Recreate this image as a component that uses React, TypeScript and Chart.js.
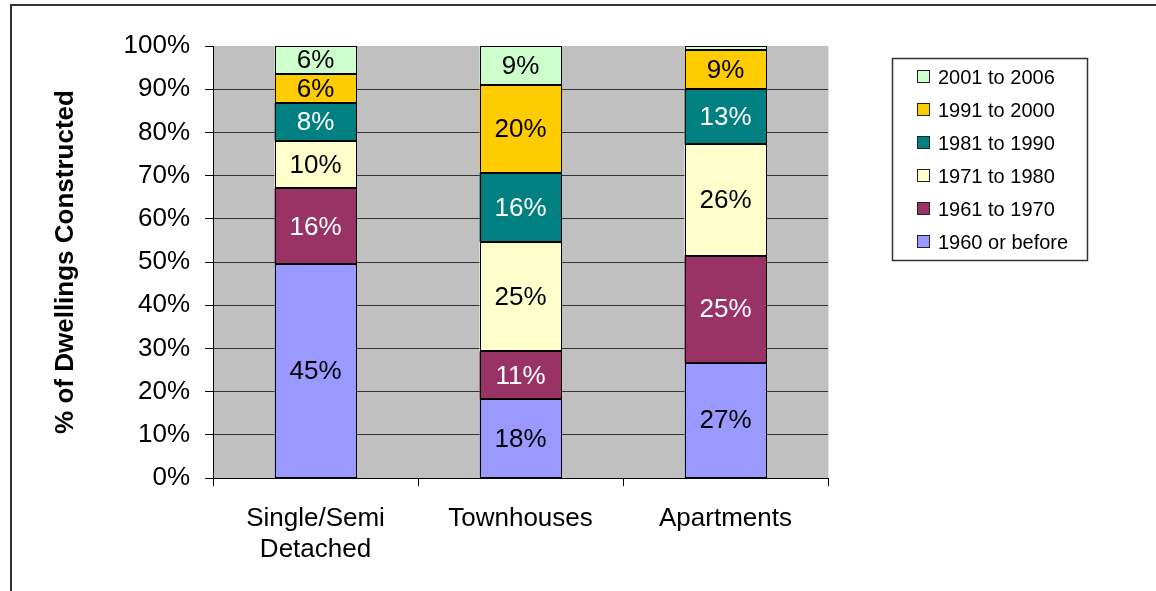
import React, { useEffect, useRef } from 'react';
import { Chart, registerables } from 'chart.js';

Chart.register(...registerables);

const categories: (string | string[])[] = [['Single/Semi', 'Detached'], 'Townhouses', 'Apartments'];
const seriesNames = ['1960 or before', '1961 to 1970', '1971 to 1980', '1981 to 1990', '1991 to 2000', '2001 to 2006'];
const before1960 = [45, 18, 27];
const from1961to1970 = [16, 11, 25];
const from1971to1980 = [10, 25, 26];
const from1981to1990 = [8, 16, 13];
const from1991to2000 = [6, 20, 9];
const from2001to2006 = [6, 9, 1];
const yTickValues = [0, 10, 20, 30, 40, 50, 60, 70, 80, 90, 100];

const seriesValues = [before1960, from1961to1970, from1971to1980, from1981to1990, from1991to2000, from2001to2006];
const fillColors = ['#9999FF', '#993366', '#FFFFCC', '#008080', '#FFCC00', '#CCFFCC'];
const textColors = ['#000000', '#FFFFFF', '#000000', '#FFFFFF', '#000000', '#000000'];

const FONT = 'Arial, "Liberation Sans", sans-serif';

const totals = categories.map((_, i) => seriesValues.reduce((s, arr) => s + arr[i], 0));

const plotBackground = {
  id: 'plotBackground',
  beforeDraw(chart: any) {
    const { ctx, chartArea } = chart;
    ctx.save();
    ctx.fillStyle = '#FFFFFF';
    ctx.fillRect(0, 0, chart.width, chart.height);
    ctx.fillStyle = '#C0C0C0';
    ctx.fillRect(chartArea.left, chartArea.top, chartArea.right - chartArea.left, chartArea.bottom - chartArea.top);
    ctx.strokeStyle = '#E0E0E0';
    ctx.lineWidth = 1;
    ctx.beginPath();
    ctx.moveTo(chartArea.right + 0.5, chartArea.top);
    ctx.lineTo(chartArea.right + 0.5, chartArea.bottom);
    ctx.stroke();
    ctx.restore();
  },
};

const barOutlinesAndLabels = {
  id: 'barOutlinesAndLabels',
  afterDatasetsDraw(chart: any) {
    const { ctx } = chart;
    ctx.save();
    ctx.strokeStyle = '#000000';
    ctx.lineWidth = 1;
    chart.data.datasets.forEach((ds: any, di: number) => {
      const meta = chart.getDatasetMeta(di);
      meta.data.forEach((bar: any) => {
        const l = Math.round(bar.x - bar.width / 2) + 0.5;
        const r = Math.round(bar.x + bar.width / 2) - 0.5;
        const t = Math.round(Math.min(bar.y, bar.base)) + 0.5;
        const b = Math.round(Math.max(bar.y, bar.base)) - 0.5;
        ctx.strokeRect(l, t, r - l, b - t);
      });
    });
    ctx.font = `26px ${FONT}`;
    ctx.textAlign = 'center';
    ctx.textBaseline = 'middle';
    chart.data.datasets.forEach((ds: any, di: number) => {
      const meta = chart.getDatasetMeta(di);
      meta.data.forEach((bar: any, i: number) => {
        const raw = ds.rawValues[i];
        if (raw < 3) return;
        ctx.fillStyle = textColors[di];
        ctx.fillText(`${raw}%`, bar.x, (bar.y + bar.base) / 2 + 1);
      });
    });
    ctx.restore();
  },
};

const boxLegend = {
  id: 'boxLegend',
  afterDraw(chart: any) {
    const { ctx } = chart;
    const left = 892.5;
    const top = 58.5;
    const w = 195;
    const h = 202;
    ctx.save();
    ctx.fillStyle = '#FFFFFF';
    ctx.fillRect(left, top, w, h);
    ctx.strokeStyle = '#333333';
    ctx.lineWidth = 1.5;
    ctx.strokeRect(left, top, w, h);
    const ds = chart.data.datasets.slice().reverse();
    ctx.font = `20px ${FONT}`;
    ctx.textBaseline = 'middle';
    ctx.textAlign = 'left';
    ds.forEach((d: any, k: number) => {
      const cy = 77 + k * 33;
      ctx.fillStyle = d.backgroundColor;
      ctx.fillRect(917.5, cy - 6.5, 12, 12);
      ctx.strokeStyle = '#222222';
      ctx.lineWidth = 1;
      ctx.strokeRect(917.5, cy - 6.5, 12, 12);
      ctx.fillStyle = '#000000';
      ctx.fillText(d.label, 938, cy + 1);
    });
    ctx.restore();
  },
};

export default function App() {
  const ref = useRef<HTMLCanvasElement>(null);

  useEffect(() => {
    if (!ref.current) return;
    const datasets = seriesValues.map((vals, di) => ({
      label: seriesNames[di],
      rawValues: vals,
      data: vals.map((v, i) => (v / totals[i]) * 100),
      backgroundColor: fillColors[di],
      borderWidth: 0,
      categoryPercentage: 1,
      barPercentage: 0.4,
    }));
    const chart = new Chart(ref.current, {
      type: 'bar',
      data: { labels: categories, datasets: datasets as any },
      options: {
        responsive: false,
        animation: false,
        layout: { padding: { left: 0, top: 46, right: 328, bottom: 0 } },
        plugins: { legend: { display: false }, tooltip: { enabled: false } },
        scales: {
          x: {
            stacked: true,
            grid: { display: true, drawOnChartArea: false, drawTicks: true, tickLength: 8, color: '#000000', offset: true },
            border: { display: true, color: '#000000', width: 1 },
            ticks: { color: '#000000', font: { family: FONT, size: 26 }, padding: 17, maxRotation: 0 },
            afterFit: (s: any) => { s.height = 113; },
          },
          y: {
            stacked: true,
            min: 0,
            max: 100,
            afterBuildTicks: (s: any) => { s.ticks = yTickValues.map((v) => ({ value: v })); },
            grid: {
              color: (c: any) => (c.tick && c.tick.value === 100 ? 'rgba(0,0,0,0)' : '#333333'),
              tickColor: '#000000',
              tickLength: 8,
              drawTicks: true,
            },
            border: { display: true, color: '#000000', width: 1 },
            ticks: { color: '#000000', font: { family: FONT, size: 26 }, padding: 15, callback: (v: any) => `${v}%` },
            title: {
              display: true,
              text: '% of Dwellings Constructed',
              color: '#000000',
              font: { family: FONT, size: 26, weight: 'bold' },
              padding: { top: 50, bottom: 0 },
            },
            afterFit: (s: any) => { s.width = 213; },
          },
        },
      },
      plugins: [plotBackground, barOutlinesAndLabels, boxLegend],
    });
    return () => chart.destroy();
  }, []);

  return (
    <div style={{ position: 'fixed', left: 0, top: 0, width: 1156, height: 591, background: '#FFFFFF', overflow: 'hidden' }}>
      <canvas ref={ref} width={1156} height={591} style={{ display: 'block', position: 'absolute', left: 0, top: 0 }} />
      <div style={{ position: 'absolute', left: 10, top: 4, width: 1160, height: 620, borderTop: '2px solid #333333', borderLeft: '2px solid #333333', pointerEvents: 'none' }} />
    </div>
  );
}
